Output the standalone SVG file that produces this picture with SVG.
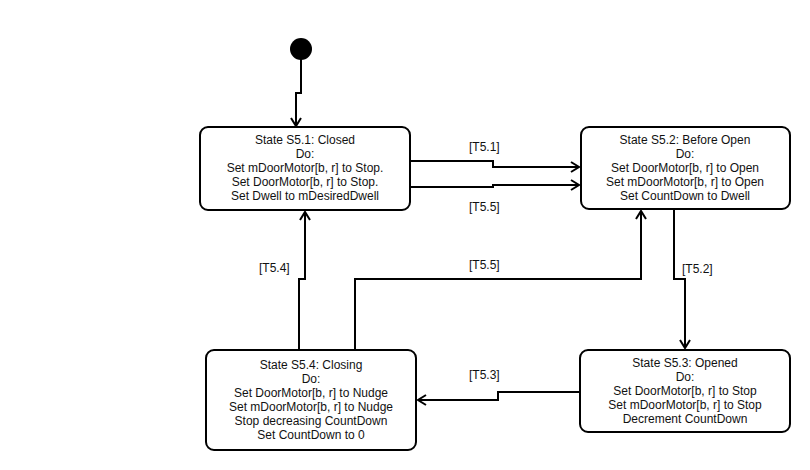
<svg xmlns="http://www.w3.org/2000/svg" width="810" height="470" viewBox="0 0 810 470">
<defs>
<style>
.box{fill:#fff;stroke:#000;stroke-width:2}
.t{font-family:"Liberation Sans",Arial,sans-serif;font-size:12px;fill:#111;text-anchor:middle}
.lbl{font-family:"Liberation Sans",Arial,sans-serif;font-size:12px;fill:#111}
.c{fill:none;stroke:#000;stroke-width:2}
</style>
<marker id="arr" markerUnits="userSpaceOnUse" markerWidth="14" markerHeight="14" refX="9" refY="6" orient="auto">
<path d="M1,1 L9,6 L1,11" fill="none" stroke="#000" stroke-width="2"/>
</marker>
</defs>
<rect width="810" height="470" fill="#fff"/>
<g id="connectors">
<path class="c" d="M301,58 V93 H296 V126" marker-end="url(#arr)"/>
<path class="c" d="M410,161 H493 V167 H579" marker-end="url(#arr)"/>
<path class="c" d="M410,187 H493 V185 H579" marker-end="url(#arr)"/>
<path class="c" d="M674,209 V279 H685 V348" marker-end="url(#arr)"/>
<path class="c" d="M580,392 H498 V400 H418" marker-end="url(#arr)"/>
<path class="c" d="M299,350 V279 H305 V212" marker-end="url(#arr)"/>
<path class="c" d="M355,350 V279 H641 V211" marker-end="url(#arr)"/>
<text class="lbl" x="469" y="151">[T5.1]</text>
<text class="lbl" x="469" y="211">[T5.5]</text>
<text class="lbl" x="682" y="273">[T5.2]</text>
<text class="lbl" x="469" y="379">[T5.3]</text>
<text class="lbl" x="259" y="272">[T5.4]</text>
<text class="lbl" x="469" y="269">[T5.5]</text>
</g>
<g id="initial">
<circle cx="301" cy="49" r="11" fill="#000"/>
</g>
<g id="s51">
<rect class="box" x="200" y="127" width="210" height="83" rx="8"/>
<text class="t" x="305" y="144">State S5.1: Closed</text>
<text class="t" x="305" y="158">Do:</text>
<text class="t" x="305" y="172">Set mDoorMotor[b, r] to Stop.</text>
<text class="t" x="305" y="186">Set DoorMotor[b, r] to Stop.</text>
<text class="t" x="305" y="200">Set Dwell to mDesiredDwell</text>
</g>
<g id="s52">
<rect class="box" x="581" y="127" width="209" height="82" rx="8"/>
<text class="t" x="685" y="144">State S5.2: Before Open</text>
<text class="t" x="685" y="158">Do:</text>
<text class="t" x="685" y="172">Set DoorMotor[b, r] to Open</text>
<text class="t" x="685" y="186">Set mDoorMotor[b, r] to Open</text>
<text class="t" x="685" y="200">Set CountDown to Dwell</text>
</g>
<g id="s53">
<rect class="box" x="580" y="350" width="210" height="82" rx="8"/>
<text class="t" x="685" y="367">State S5.3: Opened</text>
<text class="t" x="685" y="381">Do:</text>
<text class="t" x="685" y="395">Set DoorMotor[b, r] to Stop</text>
<text class="t" x="685" y="409">Set mDoorMotor[b, r] to Stop</text>
<text class="t" x="685" y="423">Decrement CountDown</text>
</g>
<g id="s54">
<rect class="box" x="206" y="350" width="210" height="100" rx="8"/>
<text class="t" x="311" y="369">State S5.4: Closing</text>
<text class="t" x="311" y="383">Do:</text>
<text class="t" x="311" y="397">Set DoorMotor[b, r] to Nudge</text>
<text class="t" x="311" y="411">Set mDoorMotor[b, r] to Nudge</text>
<text class="t" x="311" y="425">Stop decreasing CountDown</text>
<text class="t" x="311" y="439">Set CountDown to 0</text>
</g>
</svg>
